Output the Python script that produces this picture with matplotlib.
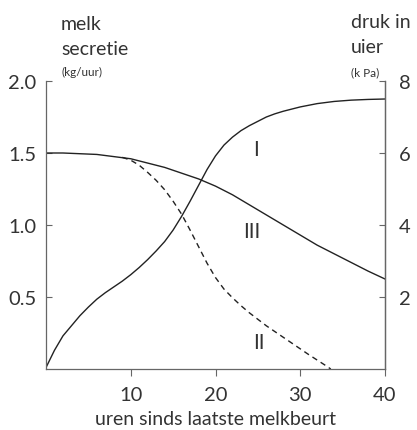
import matplotlib
matplotlib.use("Agg")
import matplotlib.pyplot as plt

plt.rcParams['font.family'] = ['Lato', 'DejaVu Sans']

# Curve I: druk in uier (plotted in left-axis units; right axis = 4x)
hours_I = [0, 0.5, 1, 2, 3, 4, 5, 6, 7, 8, 9, 10, 11, 12, 13, 14, 15, 16, 17, 18,
           19, 20, 21, 22, 23, 24, 25, 26, 27, 28, 30, 32, 34, 36, 38, 40]
curve_I = [0.01, 0.07, 0.13, 0.23, 0.30, 0.37, 0.43, 0.485, 0.53, 0.57, 0.61, 0.655,
           0.705, 0.76, 0.82, 0.885, 0.965, 1.06, 1.165, 1.275, 1.385, 1.48, 1.555,
           1.61, 1.655, 1.69, 1.72, 1.75, 1.772, 1.79, 1.82, 1.843, 1.858, 1.867,
           1.872, 1.875]

# Curve II: melksecretie (dashed)
hours_II = [9, 10, 11, 12, 13, 14, 15, 16, 17, 18, 19, 20, 21, 22, 23, 24, 25, 26,
            27, 28, 29, 30, 31, 32, 33, 33.6]
curve_II = [1.47, 1.45, 1.415, 1.365, 1.31, 1.245, 1.165, 1.075, 0.965, 0.85, 0.735,
            0.635, 0.555, 0.495, 0.44, 0.39, 0.345, 0.30, 0.26, 0.22, 0.18, 0.14,
            0.10, 0.062, 0.024, 0.0]

# Curve III: melksecretie
hours_III = [0, 2, 4, 6, 8, 10, 12, 14, 16, 18, 20, 22, 24, 26, 28, 30, 32, 34, 36, 38, 40]
curve_III = [1.50, 1.50, 1.495, 1.49, 1.475, 1.46, 1.43, 1.40, 1.36, 1.32, 1.27,
             1.21, 1.14, 1.07, 1.00, 0.93, 0.86, 0.80, 0.74, 0.68, 0.625]

x_ticks = [10, 20, 30, 40]
left_ticks = [0.5, 1.0, 1.5, 2.0]
left_labels = ['0.5', '1.0', '1.5', '2.0']
right_ticks = [2, 4, 6, 8]
right_labels = ['2', '4', '6', '8']

W, H = 417, 431
fig = plt.figure(figsize=(W / 100, H / 100), dpi=100)
ax = fig.add_axes([46 / W, 1 - 370 / H, (385 - 46) / W, (370 - 82) / H])

line_col = '#222222'
spine_col = '#666666'
text_col = '#333333'

ax.plot(hours_I, curve_I, color=line_col, lw=1.0)
ax.plot(hours_III, curve_III, color=line_col, lw=1.0)
ax.plot(hours_II, curve_II, color=line_col, lw=1.0, dashes=(4, 3))

ax.set_xlim(0, 40)
ax.set_ylim(0, 2.0)
ax.spines['top'].set_visible(False)
for s in ['left', 'right', 'bottom']:
    ax.spines[s].set_color(spine_col)
    ax.spines[s].set_linewidth(0.9)

ax.set_xticks(x_ticks)
ax.set_xticklabels([str(t) for t in x_ticks])
ax.set_yticks(left_ticks)
ax.set_yticklabels(left_labels)
ax.tick_params(axis='x', direction='out', length=5, width=0.8, color=spine_col,
               labelsize=14.5, labelcolor=text_col, pad=7)
ax.tick_params(axis='y', direction='in', length=4, width=0.8, color=spine_col,
               labelsize=14.5, labelcolor=text_col, pad=7)

ax2 = ax.twinx()
ax2.set_ylim(0, 8)
ax2.set_yticks(right_ticks)
ax2.set_yticklabels(right_labels)
ax2.spines['top'].set_visible(False)
ax2.spines['left'].set_visible(False)
ax2.spines['bottom'].set_visible(False)
ax2.spines['right'].set_color(spine_col)
ax2.spines['right'].set_linewidth(0.9)
ax2.tick_params(axis='y', direction='in', length=4, width=0.8, color=spine_col,
                labelsize=14.5, labelcolor=text_col, pad=10)

ax.set_xlabel('uren sinds laatste melkbeurt', fontsize=14, color=text_col, labelpad=5)

def ftext(x, y, s, **kw):
    fig.text(x / W, 1 - y / H, s, color=text_col, **kw)

ftext(61, 30, 'melk', fontsize=14, va='baseline', ha='left')
ftext(61, 55, 'secretie', fontsize=14, va='baseline', ha='left')
ftext(61, 76, '(kg/uur)', fontsize=8.5, va='baseline', ha='left')
ftext(351, 28, 'druk in', fontsize=14, va='baseline', ha='left')
ftext(351, 53, 'uier', fontsize=14, va='baseline', ha='left')
ftext(351, 76, '(k Pa)', fontsize=8.5, va='baseline', ha='left')

ax.text(24.8, 1.53, 'I', fontsize=15, color=text_col, ha='center', va='center')
ax.text(24.3, 0.96, 'III', fontsize=15, color=text_col, ha='center', va='center')
ax.text(25.1, 0.185, 'II', fontsize=15, color=text_col, ha='center', va='center')

fig.savefig('out.png', dpi=100)
